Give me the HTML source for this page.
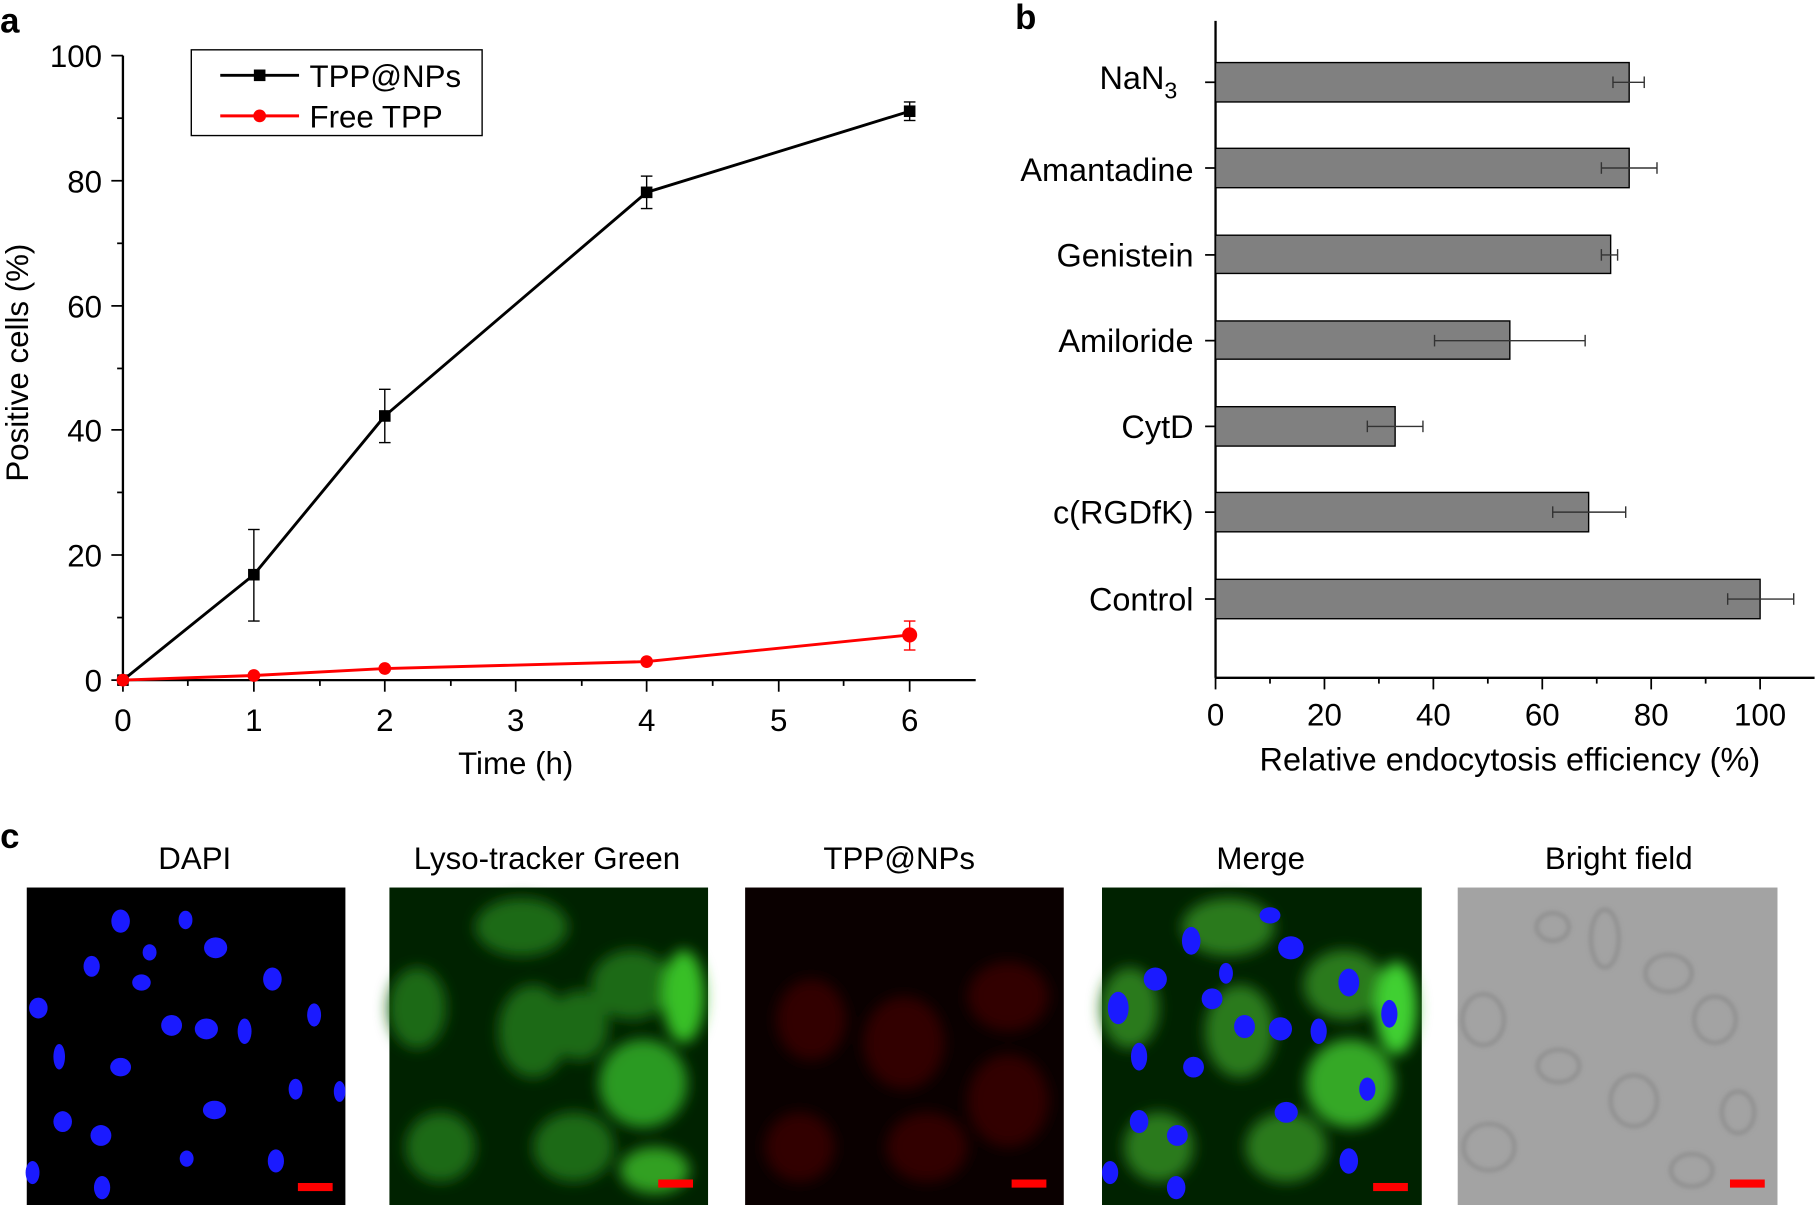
<!DOCTYPE html>
<html><head><meta charset="utf-8"><style>
html,body{margin:0;padding:0;background:#fff}
svg{display:block}
text{font-family:"Liberation Sans",sans-serif;fill:#000}
</style></head><body>
<svg width="1817" height="1205" viewBox="0 0 1568 1040" xmlns="http://www.w3.org/2000/svg">
<defs>
<filter id="bl"><feGaussianBlur stdDeviation="6"/></filter>
<filter id="bl2"><feGaussianBlur stdDeviation="2"/></filter>
</defs>
<!-- Panel a -->
<text x="0" y="28" font-size="30" font-weight="bold">a</text>
<g stroke="#000" stroke-width="2" fill="none">
<line x1="106" y1="48" x2="106" y2="587"/>
<line x1="106" y1="587" x2="842" y2="587"/>
</g>
<g stroke="#000" stroke-width="1.5">
<line x1="96" y1="48" x2="106" y2="48"/><line x1="96" y1="156" x2="106" y2="156"/><line x1="96" y1="264" x2="106" y2="264"/><line x1="96" y1="371" x2="106" y2="371"/><line x1="96" y1="479" x2="106" y2="479"/><line x1="96" y1="587" x2="106" y2="587"/>
<line x1="101" y1="102" x2="106" y2="102"/><line x1="101" y1="210" x2="106" y2="210"/><line x1="101" y1="318" x2="106" y2="318"/><line x1="101" y1="425" x2="106" y2="425"/><line x1="101" y1="533" x2="106" y2="533"/>
<line x1="106" y1="587" x2="106" y2="597"/><line x1="219" y1="587" x2="219" y2="597"/><line x1="332" y1="587" x2="332" y2="597"/><line x1="445" y1="587" x2="445" y2="597"/><line x1="558" y1="587" x2="558" y2="597"/><line x1="672" y1="587" x2="672" y2="597"/><line x1="785" y1="587" x2="785" y2="597"/>
<line x1="162" y1="587" x2="162" y2="592"/><line x1="276" y1="587" x2="276" y2="592"/><line x1="389" y1="587" x2="389" y2="592"/><line x1="502" y1="587" x2="502" y2="592"/><line x1="615" y1="587" x2="615" y2="592"/><line x1="728" y1="587" x2="728" y2="592"/>
</g>
<g font-size="27" text-anchor="end">
<text x="88" y="58">100</text><text x="88" y="166">80</text><text x="88" y="274">60</text><text x="88" y="381">40</text><text x="88" y="489">20</text><text x="88" y="597">0</text>
</g>
<g font-size="27" text-anchor="middle">
<text x="106" y="631">0</text><text x="219" y="631">1</text><text x="332" y="631">2</text><text x="445" y="631">3</text><text x="558" y="631">4</text><text x="672" y="631">5</text><text x="785" y="631">6</text>
<text x="445" y="668">Time (h)</text>
<text transform="translate(24,313) rotate(-90)">Positive cells (%)</text>
</g>
<polyline points="106,587 219,496 332,359 558,166 785,96" fill="none" stroke="#000" stroke-width="2.5"/>
<g stroke="#000" stroke-width="1.2">
<line x1="219" y1="457" x2="219" y2="536"/><line x1="214" y1="457" x2="224" y2="457"/><line x1="214" y1="536" x2="224" y2="536"/>
<line x1="332" y1="336" x2="332" y2="382"/><line x1="327" y1="336" x2="337" y2="336"/><line x1="327" y1="382" x2="337" y2="382"/>
<line x1="558" y1="152" x2="558" y2="180"/><line x1="553" y1="152" x2="563" y2="152"/><line x1="553" y1="180" x2="563" y2="180"/>
<line x1="785" y1="88" x2="785" y2="104"/><line x1="780" y1="88" x2="790" y2="88"/><line x1="780" y1="104" x2="790" y2="104"/>
</g>
<g fill="#000"><rect x="101" y="582" width="10" height="10"/><rect x="214" y="491" width="10" height="10"/><rect x="327" y="354" width="10" height="10"/><rect x="553" y="161" width="10" height="10"/><rect x="780" y="91" width="10" height="10"/></g>
<polyline points="106,587 219,583 332,577 558,571 785,548" fill="none" stroke="#f00" stroke-width="2.5"/>
<g stroke="#f00" stroke-width="1.2"><line x1="785" y1="536" x2="785" y2="561"/><line x1="780" y1="536" x2="790" y2="536"/><line x1="780" y1="561" x2="790" y2="561"/></g>
<g fill="#f00"><circle cx="106" cy="587" r="5.5"/><circle cx="219" cy="583" r="5.5"/><circle cx="332" cy="577" r="5.5"/><circle cx="558" cy="571" r="5.5"/><circle cx="785" cy="548" r="6.5"/></g>
<rect x="165" y="43" width="251" height="74" fill="#fff" stroke="#000" stroke-width="1.2"/>
<line x1="190" y1="65" x2="258" y2="65" stroke="#000" stroke-width="2.5"/><rect x="219" y="60" width="10" height="10"/>
<line x1="190" y1="100" x2="258" y2="100" stroke="#f00" stroke-width="2.5"/><circle cx="224" cy="100" r="5.5" fill="#f00"/>
<text x="267" y="75" font-size="27">TPP@NPs</text><text x="267" y="110" font-size="27">Free TPP</text>

<!-- Panel b -->
<text x="876" y="25" font-size="30" font-weight="bold">b</text>
<g stroke="#000" stroke-width="2"><line x1="1049" y1="18" x2="1049" y2="585"/><line x1="1049" y1="585" x2="1566" y2="585"/></g>
<g stroke="#000" stroke-width="1.5">
<line x1="1040" y1="71" x2="1049" y2="71"/><line x1="1040" y1="145" x2="1049" y2="145"/><line x1="1040" y1="220" x2="1049" y2="220"/><line x1="1040" y1="294" x2="1049" y2="294"/><line x1="1040" y1="368" x2="1049" y2="368"/><line x1="1040" y1="442" x2="1049" y2="442"/><line x1="1040" y1="517" x2="1049" y2="517"/>
<line x1="1049" y1="585" x2="1049" y2="595"/><line x1="1143" y1="585" x2="1143" y2="595"/><line x1="1237" y1="585" x2="1237" y2="595"/><line x1="1331" y1="585" x2="1331" y2="595"/><line x1="1425" y1="585" x2="1425" y2="595"/><line x1="1519" y1="585" x2="1519" y2="595"/>
<line x1="1096" y1="585" x2="1096" y2="590"/><line x1="1190" y1="585" x2="1190" y2="590"/><line x1="1284" y1="585" x2="1284" y2="590"/><line x1="1378" y1="585" x2="1378" y2="590"/><line x1="1472" y1="585" x2="1472" y2="590"/>
</g>
<g fill="#808080" stroke="#000" stroke-width="1.2">
<rect x="1049" y="54" width="357" height="34"/><rect x="1049" y="128" width="357" height="34"/><rect x="1049" y="203" width="341" height="33"/><rect x="1049" y="277" width="254" height="33"/><rect x="1049" y="351" width="155" height="34"/><rect x="1049" y="425" width="322" height="34"/><rect x="1049" y="500" width="470" height="34"/>
</g>
<g stroke="#333" stroke-width="1.2">
<line x1="1392" y1="71" x2="1419" y2="71"/><line x1="1392" y1="66" x2="1392" y2="76"/><line x1="1419" y1="66" x2="1419" y2="76"/>
<line x1="1382" y1="145" x2="1430" y2="145"/><line x1="1382" y1="140" x2="1382" y2="150"/><line x1="1430" y1="140" x2="1430" y2="150"/>
<line x1="1382" y1="220" x2="1396" y2="220"/><line x1="1382" y1="215" x2="1382" y2="225"/><line x1="1396" y1="215" x2="1396" y2="225"/>
<line x1="1238" y1="294" x2="1368" y2="294"/><line x1="1238" y1="289" x2="1238" y2="299"/><line x1="1368" y1="289" x2="1368" y2="299"/>
<line x1="1180" y1="368" x2="1228" y2="368"/><line x1="1180" y1="363" x2="1180" y2="373"/><line x1="1228" y1="363" x2="1228" y2="373"/>
<line x1="1340" y1="442" x2="1403" y2="442"/><line x1="1340" y1="437" x2="1340" y2="447"/><line x1="1403" y1="437" x2="1403" y2="447"/>
<line x1="1491" y1="517" x2="1548" y2="517"/><line x1="1491" y1="512" x2="1491" y2="522"/><line x1="1548" y1="512" x2="1548" y2="522"/>
</g>
<g font-size="28" text-anchor="end">
<text x="1016" y="77">NaN<tspan font-size="20" dy="8">3</tspan></text>
<text x="1030" y="156">Amantadine</text><text x="1030" y="230">Genistein</text><text x="1030" y="304">Amiloride</text><text x="1030" y="378">CytD</text><text x="1030" y="452">c(RGDfK)</text><text x="1030" y="527">Control</text>
</g>
<g font-size="27" text-anchor="middle">
<text x="1049" y="626">0</text><text x="1143" y="626">20</text><text x="1237" y="626">40</text><text x="1331" y="626">60</text><text x="1425" y="626">80</text><text x="1519" y="626">100</text>
<text x="1303" y="665" font-size="28">Relative endocytosis efficiency (%)</text>
</g>

<!-- Panel c -->
<text x="0" y="732" font-size="30" font-weight="bold">c</text>
<g font-size="27" text-anchor="middle">
<text x="168" y="750">DAPI</text><text x="472" y="750">Lyso-tracker Green</text><text x="776" y="750">TPP@NPs</text><text x="1088" y="750">Merge</text><text x="1397" y="750">Bright field</text>
</g>
<!-- DAPI -->
<rect x="23" y="766" width="275" height="274" fill="#000"/>
<g fill="#1a1aff">
<ellipse cx="104" cy="795" rx="8" ry="10"/><ellipse cx="186" cy="818" rx="10" ry="9"/><ellipse cx="160" cy="794" rx="6" ry="8"/><ellipse cx="129" cy="822" rx="6" ry="7"/><ellipse cx="79" cy="834" rx="7" ry="9"/><ellipse cx="122" cy="848" rx="8" ry="7"/><ellipse cx="235" cy="845" rx="8" ry="10"/><ellipse cx="33" cy="870" rx="8" ry="9"/><ellipse cx="271" cy="876" rx="6" ry="10"/><ellipse cx="148" cy="885" rx="9" ry="9"/><ellipse cx="178" cy="888" rx="10" ry="9"/><ellipse cx="211" cy="890" rx="6" ry="11"/><ellipse cx="51" cy="912" rx="5" ry="11"/><ellipse cx="104" cy="921" rx="9" ry="8"/><ellipse cx="255" cy="940" rx="6" ry="9"/><ellipse cx="293" cy="942" rx="5" ry="9"/><ellipse cx="185" cy="958" rx="10" ry="8"/><ellipse cx="54" cy="968" rx="8" ry="9"/><ellipse cx="87" cy="980" rx="9" ry="9"/><ellipse cx="238" cy="1002" rx="7" ry="10"/><ellipse cx="28" cy="1012" rx="6" ry="10"/><ellipse cx="88" cy="1025" rx="7" ry="10"/><ellipse cx="161" cy="1000" rx="6" ry="7"/>
</g>
<rect x="257" y="1021" width="30" height="7" fill="#f00"/>
<!-- Lyso -->
<rect x="336" y="766" width="275" height="274" fill="#020"/>
<g filter="url(#bl)" fill="#1f6a18">
<ellipse cx="360" cy="870" rx="25" ry="35"/><ellipse cx="460" cy="890" rx="30" ry="40"/><ellipse cx="545" cy="850" rx="35" ry="30"/><ellipse cx="590" cy="860" rx="18" ry="40" fill="#38c028"/><ellipse cx="555" cy="935" rx="38" ry="38" fill="#2c9a20"/><ellipse cx="495" cy="990" rx="35" ry="30"/><ellipse cx="565" cy="1010" rx="30" ry="20" fill="#30a024"/><ellipse cx="380" cy="990" rx="30" ry="30"/><ellipse cx="450" cy="800" rx="40" ry="25"/><ellipse cx="500" cy="885" rx="25" ry="30"/>
</g>
<rect x="568" y="1018" width="30" height="7" fill="#f00"/>
<!-- TPP -->
<rect x="643" y="766" width="275" height="274" fill="#0a0000"/>
<g filter="url(#bl)" fill="#300606">
<ellipse cx="700" cy="880" rx="30" ry="35"/><ellipse cx="780" cy="900" rx="35" ry="40"/><ellipse cx="870" cy="860" rx="35" ry="30"/><ellipse cx="870" cy="950" rx="35" ry="40"/><ellipse cx="800" cy="990" rx="35" ry="30"/><ellipse cx="690" cy="990" rx="30" ry="30"/>
</g>
<rect x="873" y="1018" width="30" height="7" fill="#f00"/>
<!-- Merge -->
<rect x="951" y="766" width="276" height="274" fill="#020"/>
<g filter="url(#bl)" fill="#2a7a1e">
<ellipse cx="975" cy="870" rx="25" ry="35"/><ellipse cx="1070" cy="890" rx="30" ry="40"/><ellipse cx="1160" cy="850" rx="35" ry="30"/><ellipse cx="1205" cy="870" rx="18" ry="40" fill="#40d030"/><ellipse cx="1165" cy="935" rx="38" ry="38" fill="#36a826"/><ellipse cx="1110" cy="990" rx="35" ry="30"/><ellipse cx="1000" cy="990" rx="30" ry="30"/><ellipse cx="1060" cy="800" rx="40" ry="25"/>
</g>
<g fill="#1a1aff">
<ellipse cx="1028" cy="812" rx="8" ry="12"/><ellipse cx="1096" cy="790" rx="9" ry="7"/><ellipse cx="1114" cy="818" rx="11" ry="10"/><ellipse cx="1058" cy="840" rx="6" ry="9"/><ellipse cx="997" cy="845" rx="10" ry="10"/><ellipse cx="1046" cy="862" rx="9" ry="9"/><ellipse cx="1164" cy="848" rx="9" ry="12"/><ellipse cx="965" cy="870" rx="9" ry="14"/><ellipse cx="1199" cy="875" rx="7" ry="12"/><ellipse cx="1074" cy="886" rx="9" ry="10"/><ellipse cx="1105" cy="888" rx="10" ry="10"/><ellipse cx="1138" cy="890" rx="7" ry="11"/><ellipse cx="983" cy="912" rx="7" ry="12"/><ellipse cx="1030" cy="921" rx="9" ry="9"/><ellipse cx="1180" cy="940" rx="7" ry="10"/><ellipse cx="1110" cy="960" rx="10" ry="9"/><ellipse cx="983" cy="968" rx="8" ry="10"/><ellipse cx="1016" cy="980" rx="9" ry="9"/><ellipse cx="1164" cy="1002" rx="8" ry="11"/><ellipse cx="958" cy="1012" rx="7" ry="10"/><ellipse cx="1015" cy="1025" rx="8" ry="10"/>
</g>
<rect x="1185" y="1021" width="30" height="7" fill="#f00"/>
<!-- Bright field -->
<rect x="1258" y="766" width="276" height="274" fill="#a3a3a3"/>
<g fill="none" stroke="#808080" stroke-width="2" filter="url(#bl2)">
<ellipse cx="1280" cy="880" rx="18" ry="22"/><ellipse cx="1340" cy="800" rx="14" ry="12"/><ellipse cx="1385" cy="810" rx="12" ry="25"/><ellipse cx="1440" cy="840" rx="20" ry="16"/><ellipse cx="1480" cy="880" rx="18" ry="20"/><ellipse cx="1345" cy="920" rx="18" ry="14"/><ellipse cx="1410" cy="950" rx="20" ry="22"/><ellipse cx="1285" cy="990" rx="22" ry="20"/><ellipse cx="1500" cy="960" rx="14" ry="18"/><ellipse cx="1460" cy="1010" rx="18" ry="14"/>
</g>
<rect x="1493" y="1018" width="30" height="7" fill="#f00"/>
</svg>
</body></html>
